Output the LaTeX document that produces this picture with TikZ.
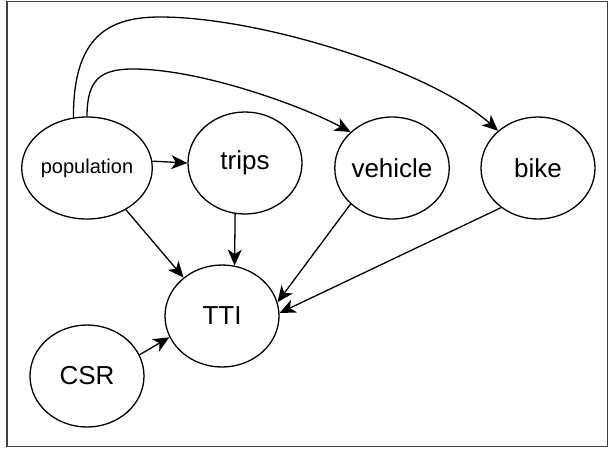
\documentclass[tikz,border=0pt]{standalone}
\usepackage{fontspec}
\setmainfont{Liberation Sans}
\usetikzlibrary{shapes.geometric,arrows.meta}
\tikzset{
  var/.style={draw=black, line width=1.3pt, ellipse, minimum width=114pt, minimum height=102pt, inner sep=0pt, font=\fontsize{26}{30}\selectfont},
  link/.style={draw=black, line width=1.3pt, -{Stealth[length=16pt,width=14pt,inset=4.5pt]}},
}
\begin{document}
\begin{tikzpicture}[x=1pt,y=-1pt]
\useasboundingbox (0,0) rectangle (609,448);
\draw[draw=black!75, line width=1.5pt] (7,1.5) rectangle (607.5,446.5);
\node[var, font=\fontsize{20}{24}\selectfont] (pop) at (87,168) {population};
\node[var] (trips) at (245,163) {trips};
\node[var] (veh) at (392,168) {vehicle};
\node[var] (bike) at (538,168) {bike};
\node[var] (tti) at (222,316) {TTI};
\node[var] (csr) at (87,376) {CSR};
% curved edges
\draw[link] (pop.105) .. controls (73,35) and (110,17) .. (160,17)
  .. controls (260,17) and (430,70) .. (bike.137);
\draw[link] (pop.90) .. controls (87,80) and (100,69) .. (133,69)
  .. controls (200,69) and (300,105) .. (veh.139);
% straight edges
\draw[link] (pop.6) -- (trips.180);
\draw[link] (pop.313) -- (tti.135);
\draw[link] (trips.259) -- (tti.76);
\draw[link] (veh.221) -- (tti.14);
\draw[link] (bike.227) -- (tti.3);
\draw[link] (csr.22) -- (tti.202);
\end{tikzpicture}
\end{document}
